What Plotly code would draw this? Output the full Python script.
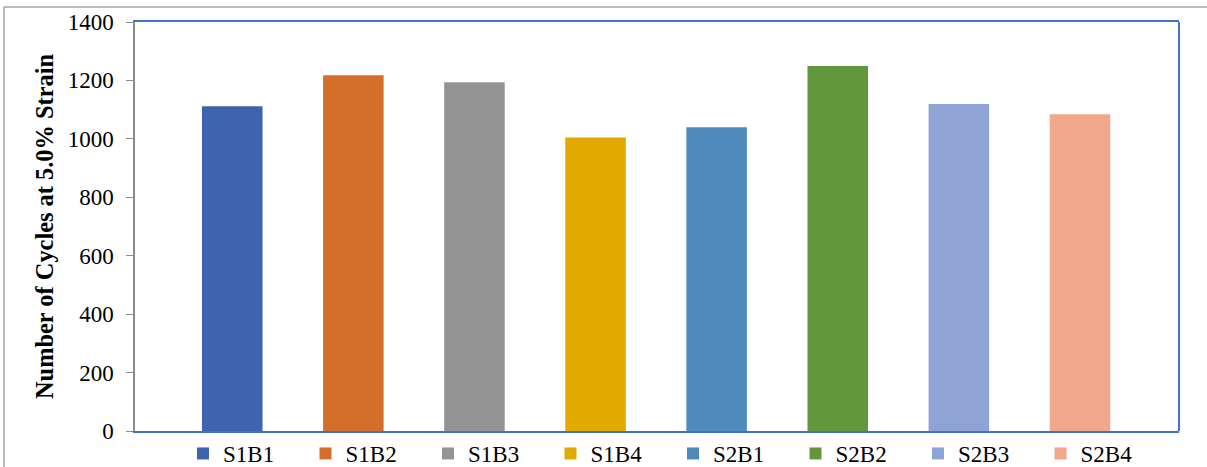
import plotly.graph_objects as go

samples = ['S1B1', 'S1B2', 'S1B3', 'S1B4', 'S2B1', 'S2B2', 'S2B3', 'S2B4']
cycles = [1112, 1218, 1194, 1005, 1040, 1249, 1119, 1084]
colors = ['#3D64AD', '#D36F2A', '#949494', '#E2AA00',
          '#4F8ABD', '#63973D', '#8FA4D4', '#F0A78A']
y_ticks = [0, 200, 400, 600, 800, 1000, 1200, 1400]

font_name = 'Liberation Serif'

fig = go.Figure()
for name, val, col in zip(samples, cycles, colors):
    fig.add_trace(go.Bar(x=[name], y=[val], name=name,
                         marker=dict(color=col, line=dict(width=0)),
                         width=0.5))

fig.update_layout(
    width=1207, height=467,
    margin=dict(l=135, r=28, t=22, b=36, autoexpand=False),
    paper_bgcolor='white', plot_bgcolor='white',
    barmode='overlay',
    font=dict(family=font_name, size=23, color='#000000'),
    showlegend=True,
    legend=dict(orientation='h', x=(183 - 135) / 1044, xanchor='left',
                y=-0.055, yanchor='middle',
                bgcolor='rgba(0,0,0,0)',
                font=dict(family=font_name, size=23, color='#000000'),
                entrywidth=77.5, entrywidthmode='pixels',
                itemclick=False, traceorder='normal'),
)

fig.update_xaxes(
    categoryorder='array', categoryarray=samples,
    range=[-0.803, 7.818],
    showticklabels=False, ticks='',
    showgrid=False, zeroline=False,
    showline=True, linecolor='#4472C4', linewidth=2, mirror=True,
)
fig.update_yaxes(
    range=[0, 1400], tickvals=y_ticks,
    ticks='outside', ticklen=7, tickcolor='#8C8C8C', tickwidth=1,
    ticklabelstandoff=8,
    showgrid=False, zeroline=False,
    showline=True, linecolor='#8C8C8C', linewidth=1.5,
    title=dict(text='<b>Number of Cycles at 5.0% Strain</b>',
               font=dict(family=font_name, size=24.4, color='#000000'),
               standoff=7),
)

# blue right edge of the plot area
fig.add_shape(type='line', xref='paper', yref='paper', x0=1, x1=1, y0=0, y1=1,
              line=dict(color='#4472C4', width=2))
# outer chart frame (top and left edges visible)
fig.add_shape(type='line', xref='paper', yref='paper',
              x0=(4 - 135) / 1044, x1=(1207 - 135) / 1044,
              y0=(431 - 7) / 409, y1=(431 - 7) / 409,
              line=dict(color='#A6A6A6', width=1.5))
fig.add_shape(type='line', xref='paper', yref='paper',
              x0=(4 - 135) / 1044, x1=(4 - 135) / 1044,
              y0=(431 - 7) / 409, y1=(431 - 470) / 409,
              line=dict(color='#A6A6A6', width=1.5))

fig.write_html("out.html", config={'displayModeBar': False},
               post_script="document.body.style.margin='0';")
